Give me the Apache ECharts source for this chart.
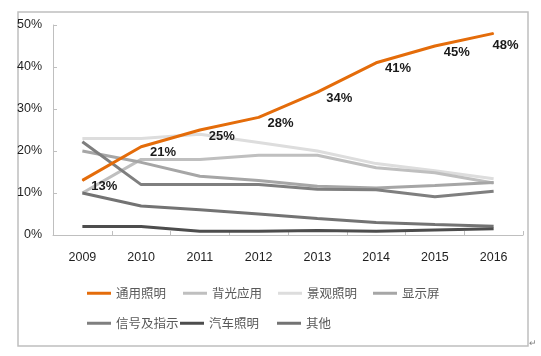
<!DOCTYPE html>
<html>
<head>
<meta charset="utf-8">
<script src="https://cdn.jsdelivr.net/npm/echarts@6/dist/echarts.min.js"></script>
<style>
html,body{margin:0;padding:0;background:#fff;}
#c{width:541px;height:356px;}
</style>
</head>
<body>
<div id="c"></div>
<script>
var years = ['2009','2010','2011','2012','2013','2014','2015','2016'];
var seriesNames = ['通用照明','背光应用','景观照明','显示屏','信号及指示','汽车照明','其他'];
var general   = [13, 21, 25, 28, 34, 41, 45, 48];
var backlight = [10, 18, 18, 19, 19, 16, 14.8, 12.4];
var landscape = [23, 23, 24, 22, 20, 17, 15.3, 13.4];
var display   = [20, 17.3, 14, 13, 11.6, 11.2, 11.8, 12.5];
var signal    = [22.2, 12, 12, 12, 10.9, 10.8, 9.1, 10.4];
var auto      = [2, 2, 0.9, 0.9, 1.1, 0.9, 1.2, 1.5];
var other     = [10, 6.9, 6, 5, 3.9, 3, 2.5, 2.1];
var yTicks = [0, 10, 20, 30, 40, 50];

var colors = ['#E46C0A','#BFBFBF','#DDDDDD','#A6A6A6','#7F7F7F','#4D4D4D','#737373'];
var values = [general, backlight, landscape, display, signal, auto, other];
var numFont = '"Liberation Sans Narrow", "Liberation Sans", Arial, sans-serif';

var chart = echarts.init(document.getElementById('c'), null, {renderer:'canvas'});

var series = [];
var order = [2,1,3,4,6,5,0];
order.forEach(function(i){
  var s = {
    name: seriesNames[i],
    type: 'line',
    data: values[i],
    smooth: false,
    symbol: 'none',
    lineStyle: {width: 3, color: colors[i]},
    itemStyle: {color: colors[i]},
    z: i === 0 ? 10 : 2,
    animation: false
  };
  if (i === 0) {
    s.symbol = 'circle';
    s.symbolSize = 1;
    s.showSymbol = true;
    s.data = values[i].map(function(v, k){
      var item = {value: v};
      if (k === values[i].length - 1) item.label = {offset: [12, 12]};
      return item;
    });
    s.label = {
      show: true,
      position: 'inside',
      offset: [22, 6],
      formatter: function(p){ return p.value + '%'; },
      fontFamily: numFont,
      fontWeight: 'bold',
      fontSize: 13,
      color: '#1a1a1a'
    };
  }
  series.push(s);
});

var legendLeft = [87, 183, 278, 373, 87, 180, 277];
var legendTop  = [287, 287, 287, 287, 317, 317, 317];
var legends = seriesNames.map(function(n, i){
  return {
    data: [n],
    left: legendLeft[i],
    top: legendTop[i],
    icon: 'rect',
    itemWidth: 24,
    itemHeight: 3,
    padding: 0,
    textStyle: {fontFamily: 'Noto Sans CJK SC', fontSize: 12.5, color: '#595959'}
  };
});

chart.setOption({
  animation: false,
  color: colors,
  legend: legends,
  grid: {left: 53, right: 18, top: 25, bottom: 121},
  xAxis: {
    type: 'category',
    data: years,
    boundaryGap: true,
    axisLine: {lineStyle: {color: '#BFBFBF', width: 1}},
    axisTick: {show: true, inside: true, length: 4, lineStyle: {color: '#BFBFBF'}},
    axisLabel: {margin: 16, fontFamily: numFont, fontSize: 12.5, color: '#1f1f1f'}
  },
  yAxis: {
    type: 'value',
    min: yTicks[0],
    max: yTicks[yTicks.length - 1],
    interval: 10,
    axisLine: {show: true, lineStyle: {color: '#BFBFBF', width: 1}},
    axisTick: {show: true, inside: true, length: 4, lineStyle: {color: '#BFBFBF'}},
    splitLine: {show: false},
    axisLabel: {margin: 11, formatter: '{value}%', fontFamily: numFont, fontSize: 12.5, color: '#1f1f1f'}
  },
  graphic: [
    {type: 'rect', shape: {x: 18, y: 12, width: 510, height: 334}, style: {fill: 'none', stroke: '#BFBFBF', lineWidth: 1.5}, silent: true, z: -1},
    {type: 'text', left: 529, top: 339, style: {text: '↵', fill: '#808080', font: '9px Liberation Sans'}}
  ],
  series: series
});
</script>
</body>
</html>
